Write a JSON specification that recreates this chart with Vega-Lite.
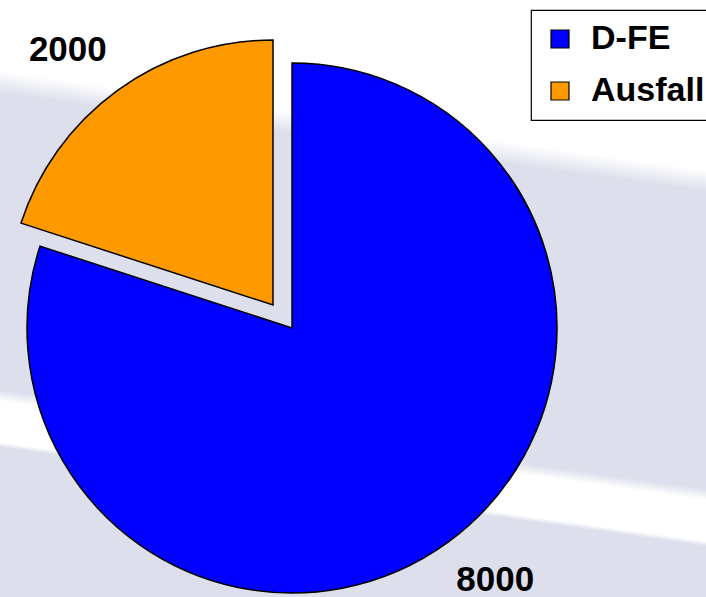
{
  "$schema": "https://vega.github.io/schema/vega-lite/v6.json",
  "width": 706,
  "height": 597,
  "autosize": "none",
  "padding": 0,
  "background": "white",
  "config": {
    "font": "Liberation Sans",
    "legend": {"strokeWidth": 1.2}
  },
  "view": {
    "stroke": null,
    "fill": {
      "gradient": "linear",
      "x1": 0.5828, "y1": 0, "x2": 0.4172, "y2": 1,
      "stops": [
        {"offset": 0, "color": "#ffffff"},
        {"offset": 0.21, "color": "#ffffff"},
        {"offset": 0.245, "color": "#dde0ec"},
        {"offset": 0.73, "color": "#dde0ec"},
        {"offset": 0.748, "color": "#ffffff"},
        {"offset": 0.815, "color": "#ffffff"},
        {"offset": 0.823, "color": "#dde0ec"},
        {"offset": 1, "color": "#dde0ec"}
      ]
    }
  },
  "data": {
    "values": [
      {"cat": "D-FE", "value": 8000},
      {"cat": "Ausfall", "value": 2000}
    ]
  },
  "encoding": {
    "theta": {"field": "value", "type": "quantitative", "stack": true},
    "order": {"field": "value", "type": "quantitative", "sort": "descending"},
    "color": {
      "field": "cat",
      "type": "nominal",
      "scale": {"domain": ["D-FE", "Ausfall"], "range": ["#0000ff", "#ff9900"]},
      "legend": {
        "orient": "none",
        "legendX": 531,
        "legendY": 10,
        "title": null,
        "symbolType": "square",
        "symbolSize": 324,
        "symbolStrokeColor": "black",
        "symbolStrokeWidth": 1.2,
        "labelFont": "Liberation Sans",
        "labelFontWeight": "bold",
        "labelFontSize": 34,
        "labelColor": "black",
        "labelOffset": 14,
        "rowPadding": 18,
        "padding": 12,
        "strokeColor": "black",
        "fillColor": "white"
      }
    }
  },
  "layer": [
    {
      "mark": {"type": "arc", "radius": 265, "stroke": "black", "strokeWidth": 1.5, "xOffset": -61, "yOffset": 29.5},
      "encoding": {
        "opacity": {"condition": {"test": "datum.cat === 'D-FE'", "value": 1}, "value": 0}
      }
    },
    {
      "mark": {"type": "arc", "radius": 265, "stroke": "black", "strokeWidth": 1.5, "xOffset": -80, "yOffset": 6.5},
      "encoding": {
        "opacity": {"condition": {"test": "datum.cat === 'Ausfall'", "value": 1}, "value": 0}
      }
    },
    {
      "mark": {"type": "text", "radius": 324, "thetaOffset": -0.05, "xOffset": -61, "yOffset": 29.5, "font": "Liberation Sans", "fontWeight": "bold", "fontSize": 35, "align": "center", "baseline": "middle"},
      "encoding": {
        "text": {"field": "value", "type": "quantitative", "format": "d"},
        "color": {"value": "black"},
        "opacity": {"condition": {"test": "datum.cat === 'D-FE'", "value": 1}, "value": 0}
      }
    },
    {
      "mark": {"type": "text", "radius": 327, "thetaOffset": -0.05, "xOffset": -80, "yOffset": 6.5, "font": "Liberation Sans", "fontWeight": "bold", "fontSize": 35, "align": "center", "baseline": "middle"},
      "encoding": {
        "text": {"field": "value", "type": "quantitative", "format": "d"},
        "color": {"value": "black"},
        "opacity": {"condition": {"test": "datum.cat === 'Ausfall'", "value": 1}, "value": 0}
      }
    }
  ]
}
